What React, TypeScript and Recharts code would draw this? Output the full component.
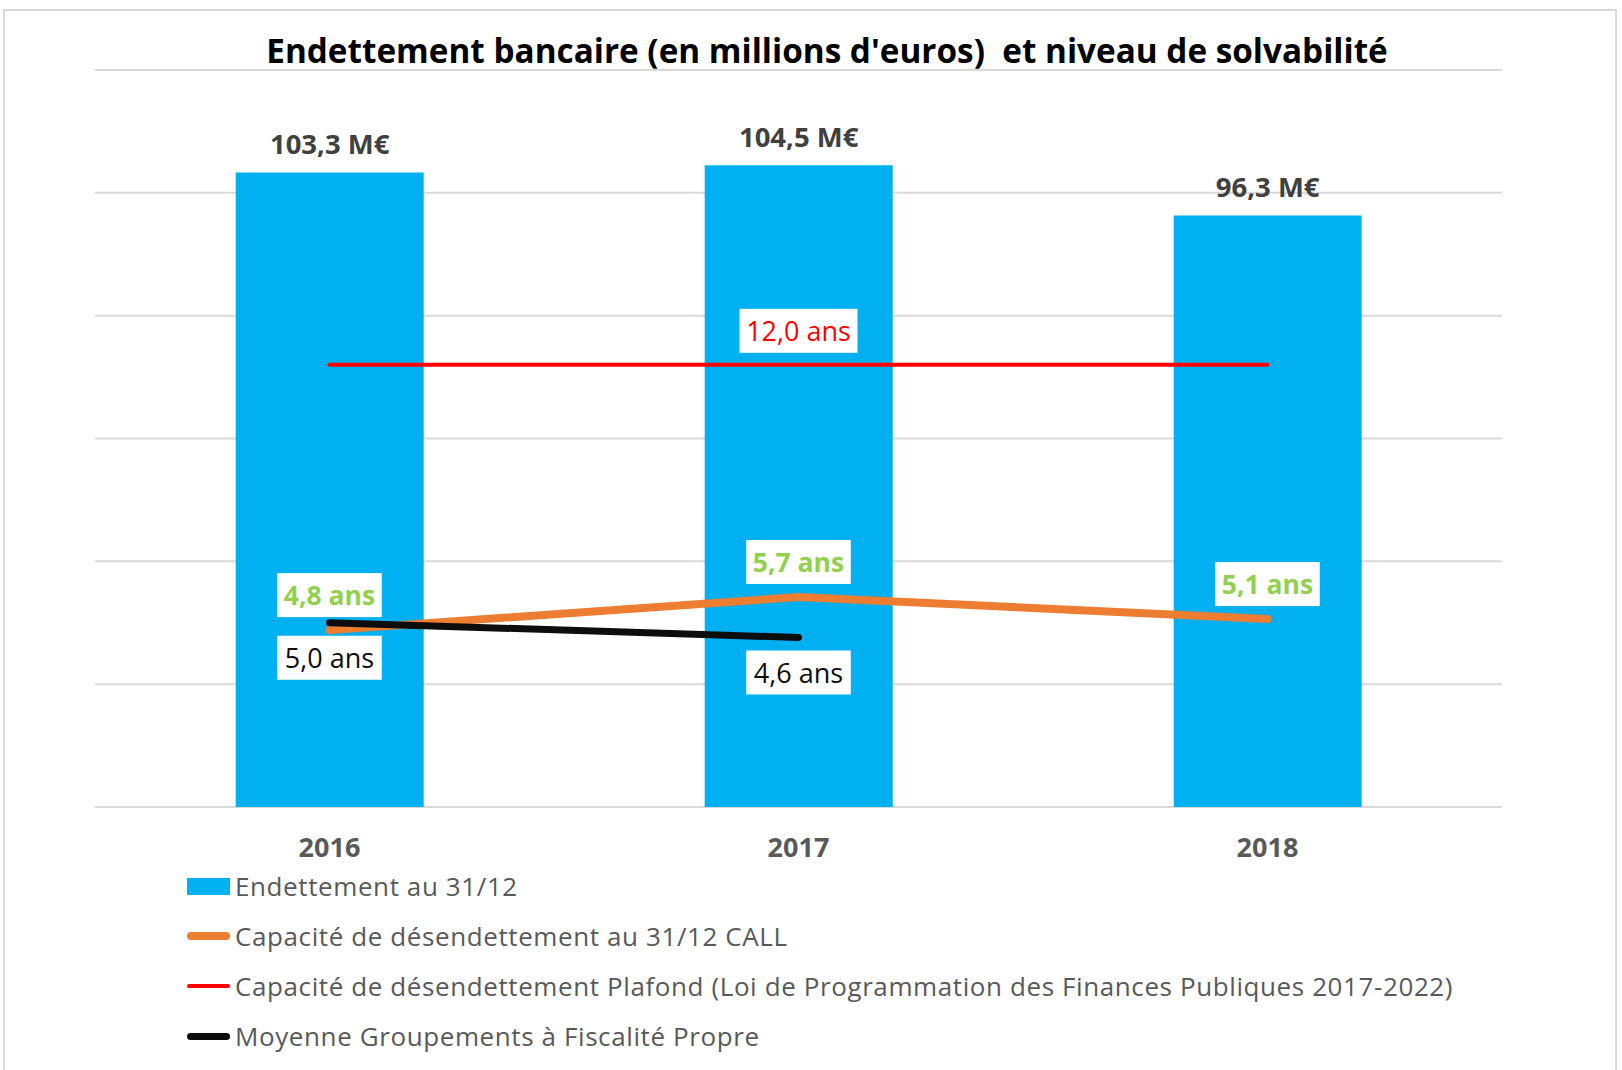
import React from 'react';
import {
  ComposedChart,
  Bar,
  Line,
  XAxis,
  YAxis,
  CartesianGrid,
  LabelList
} from 'recharts';

// ============================================
// DONNÉES
// ============================================

const YEARS = ['2016', '2017', '2018'];
const ENDETTEMENT = [103.3, 104.5, 96.3];
const CAPACITE_CALL = [4.8, 5.7, 5.1];
const PLAFOND = [12.0, 12.0, 12.0];
const MOYENNE_GFP: (number | null)[] = [5.0, 4.6, null];
const LEFT_TICKS = [0, 20, 40, 60, 80, 100, 120];

const TITLE = "Endettement bancaire (en millions d'euros)  et niveau de solvabilité";

const SERIES_NAMES = {
  bar: 'Endettement au 31/12',
  call: 'Capacité de désendettement au 31/12 CALL',
  plafond: 'Capacité de désendettement Plafond (Loi de Programmation des Finances Publiques 2017-2022)',
  moyenne: 'Moyenne Groupements à Fiscalité Propre'
};

const data = YEARS.map((year, i) => ({
  year,
  endettement: ENDETTEMENT[i],
  call: CAPACITE_CALL[i],
  plafond: PLAFOND[i],
  moyenne: MOYENNE_GFP[i]
}));

// ============================================
// STYLES
// ============================================

const FONT = '"Open Sans", "Noto Sans", sans-serif';
const BLUE = '#00B0F0';
const ORANGE = '#ED7D31';
const RED = '#FF0000';
const BLACK = '#0D0D0D';
const GREEN = '#92D050';
const GRID = '#D9D9D9';

const fmt = (v: number) => v.toFixed(1).replace('.', ',');

// ============================================
// ÉTIQUETTES
// ============================================

const BarValueLabel = (props: any) => {
  const { x, y, width, value } = props;
  return (
    <text
      x={x + width / 2}
      y={y - 29}
      textAnchor="middle"
      dominantBaseline="central"
      fontFamily={FONT}
      fontSize={27.5}
      fontWeight={700}
      fill="#404040"
    >
      {`${fmt(value)} M€`}
    </text>
  );
};

const boxedLabel = (color: string, bold: boolean, dy: number, showIndex?: number) => (props: any) => {
  const { x, y, value, index } = props;
  if (value == null) return null;
  if (showIndex !== undefined && index !== showIndex) return null;
  const text = `${fmt(value)} ans`;
  const w = text.length * 13.5 + 10;
  const h = 44;
  const cy = y + dy;
  return (
    <g>
      <rect x={x - w / 2} y={cy - h / 2} width={w} height={h} fill="#FFFFFF" />
      <text
        x={x}
        y={cy}
        textAnchor="middle"
        dominantBaseline="central"
        fontFamily={FONT}
        fontSize={bold ? 26.5 : 27}
        fontWeight={bold ? 700 : 400}
        fill={color}
      >
        {text}
      </text>
    </g>
  );
};

const YearTick = (props: any) => {
  const { x, y, payload } = props;
  return (
    <text
      x={x}
      y={y + 31}
      textAnchor="middle"
      dominantBaseline="central"
      fontFamily={FONT}
      fontSize={27}
      fontWeight={700}
      fill="#595959"
    >
      {payload.value}
    </text>
  );
};

// ============================================
// LÉGENDE
// ============================================

const LEGEND_ITEMS = [
  { name: SERIES_NAMES.bar, color: BLUE, kind: 'box', thick: 17 },
  { name: SERIES_NAMES.call, color: ORANGE, kind: 'line', thick: 8 },
  { name: SERIES_NAMES.plafond, color: RED, kind: 'line', thick: 4 },
  { name: SERIES_NAMES.moyenne, color: BLACK, kind: 'line', thick: 7 }
];

const CustomLegend = () => (
  <div style={{ fontFamily: FONT }}>
    {LEGEND_ITEMS.map((item) => (
      <div
        key={item.name}
        style={{
          display: 'flex',
          alignItems: 'center',
          height: 50,
          color: '#595959',
          fontSize: 26,
          letterSpacing: 0.6
        }}
      >
        <span
          style={{
            display: 'inline-block',
            width: 43,
            height: item.thick,
            background: item.color,
            borderRadius: item.kind === 'line' ? item.thick / 2 : 0,
            marginRight: 5
          }}
        />
        <span style={{ whiteSpace: 'nowrap' }}>{item.name}</span>
      </div>
    ))}
  </div>
);

// ============================================
// GRAPHIQUE
// ============================================

export default function App() {
  return (
    <div
      style={{
        position: 'absolute',
        left: 0,
        top: 0,
        width: 1622,
        height: 1070,
        background: '#FFFFFF',
        overflow: 'hidden'
      }}
    >
      <div
        style={{
          position: 'absolute',
          left: 3,
          top: 9,
          width: 1614,
          height: 1080,
          border: `2px solid ${GRID}`,
          boxSizing: 'border-box'
        }}
      />
      <div
        style={{
          position: 'absolute',
          left: 0,
          top: 28,
          width: 1654,
          textAlign: 'center',
          fontFamily: FONT,
          fontWeight: 700,
          fontSize: 33.3,
          color: '#000000',
          whiteSpace: 'pre',
          lineHeight: '44px'
        }}
      >
        {TITLE}
      </div>
      <div style={{ position: 'absolute', left: 0, top: 0 }}>
        <ComposedChart
          width={1622}
          height={1070}
          data={data}
          margin={{ top: 70, right: 120, bottom: 233, left: 95 }}
          barCategoryGap="30%"
        >
          <CartesianGrid vertical={false} stroke={GRID} strokeWidth={2} yAxisId="left" />
          <XAxis
            dataKey="year"
            axisLine={false}
            tickLine={false}
            tick={<YearTick />}
            height={30}
          />
          <YAxis
            yAxisId="left"
            domain={[0, 120]}
            ticks={LEFT_TICKS}
            hide
            width={0}
          />
          <YAxis yAxisId="right" orientation="right" domain={[0, 20]} hide width={0} />
          <Bar
            yAxisId="left"
            dataKey="endettement"
            name={SERIES_NAMES.bar}
            fill={BLUE}
            isAnimationActive={false}
          >
            <LabelList dataKey="endettement" content={<BarValueLabel />} />
          </Bar>
          <Line
            yAxisId="right"
            dataKey="call"
            name={SERIES_NAMES.call}
            stroke={ORANGE}
            strokeWidth={8}
            strokeLinecap="round"
            dot={false}
            activeDot={false}
            type="linear"
            isAnimationActive={false}
          />
          <Line
            yAxisId="right"
            dataKey="plafond"
            name={SERIES_NAMES.plafond}
            stroke={RED}
            strokeWidth={4}
            strokeLinecap="round"
            dot={false}
            activeDot={false}
            type="linear"
            isAnimationActive={false}
          />
          <Line
            yAxisId="right"
            dataKey="moyenne"
            name={SERIES_NAMES.moyenne}
            stroke={BLACK}
            strokeWidth={7}
            strokeLinecap="round"
            dot={false}
            activeDot={false}
            type="linear"
            isAnimationActive={false}
          />
          {/* étiquettes par-dessus les courbes */}
          <Line
            yAxisId="right"
            dataKey="plafond"
            stroke="none"
            dot={false}
            activeDot={false}
            legendType="none"
            isAnimationActive={false}
          >
            <LabelList dataKey="plafond" content={boxedLabel(RED, false, -34, 1)} />
          </Line>
          <Line
            yAxisId="right"
            dataKey="call"
            stroke="none"
            dot={false}
            activeDot={false}
            legendType="none"
            isAnimationActive={false}
          >
            <LabelList dataKey="call" content={boxedLabel(GREEN, true, -35)} />
          </Line>
          <Line
            yAxisId="right"
            dataKey="moyenne"
            stroke="none"
            dot={false}
            activeDot={false}
            legendType="none"
            isAnimationActive={false}
          >
            <LabelList dataKey="moyenne" content={boxedLabel(BLACK, false, 35)} />
          </Line>
        </ComposedChart>
      </div>
      <div style={{ position: 'absolute', left: 187, top: 861 }}>
        <CustomLegend />
      </div>
    </div>
  );
}
